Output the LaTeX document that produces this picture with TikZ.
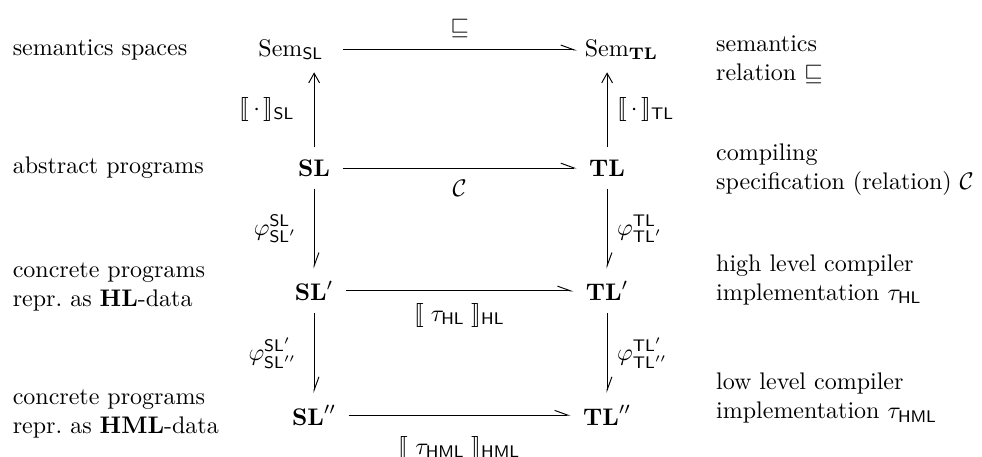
\documentclass[tikz,border=0pt]{standalone}
\usepackage{amsmath,amssymb,stmaryrd}
\usetikzlibrary{arrows.meta}

\begin{document}
\begin{tikzpicture}[
    obj/.style={inner sep=1pt},
    harp/.style={-{Straight Barb[harpoon,length=5.5pt,width=4pt]}, shorten <=4pt, shorten >=4pt},
    upar/.style={-{Straight Barb[length=4pt,width=4.5pt]}, shorten <=4pt, shorten >=4pt},
    txt/.style={anchor=west, align=left, inner sep=0pt},
    lbl/.style={inner sep=0pt}
  ]
  \useasboundingbox (0,0) rectangle (14.38,-6.68);

  % the square of languages
  \node[obj] (semsl) at (4.26,-0.73) {$\mathrm{Sem}_{\mathsf{SL}}$};
  \node[obj] (semtl) at (9.10,-0.73) {$\mathrm{Sem}_{\mathbf{TL}}$};
  \node[obj] (sl) at (4.60,-2.46) {$\mathbf{SL}$};
  \node[obj] (tl) at (8.89,-2.46) {$\mathbf{TL}$};
  \node[obj] (slp) at (4.60,-4.26) {$\mathbf{SL}'$};
  \node[obj] (tlp) at (8.89,-4.26) {$\mathbf{TL}'$};
  \node[obj] (slpp) at (4.60,-6.08) {$\mathbf{SL}''$};
  \node[obj] (tlpp) at (8.89,-6.08) {$\mathbf{TL}''$};

  % horizontal arrows
  \draw[harp] (sl.east |- semsl) -- (tl.west |- semtl) node[midway, above=5pt, lbl] {$\sqsubseteq$};
  \draw[harp] (sl) -- (tl) node[midway, below=5pt, lbl] {$\mathcal{C}$};
  \draw[harp] (slp) -- (tlp) node[midway, below=5pt, lbl] {$\llbracket\;\tau_{\mathsf{HL}}\;\rrbracket_{\mathsf{HL}}$};
  \draw[harp] (slpp) -- (tlpp) node[midway, below=8.6pt, lbl] {$\llbracket\;\tau_{\mathsf{HML}}\;\rrbracket_{\mathsf{HML}}$};

  % vertical arrows
  \draw[upar] (sl) -- (sl |- semsl.south) node[midway, left=8pt, lbl] {$\llbracket\,\cdot\,\rrbracket_{\mathsf{SL}}$};
  \draw[upar] (tl) -- (tl |- semtl.south) node[midway, right=4pt, lbl] {$\llbracket\,\cdot\,\rrbracket_{\mathsf{TL}}$};
  \draw[harp] (sl) -- (slp) node[midway, left=7pt, lbl] {$\varphi^{\mathsf{SL}}_{\mathsf{SL}'}$};
  \draw[harp] (tl) -- (tlp) node[midway, right=4pt, lbl] {$\varphi^{\mathsf{TL}}_{\mathsf{TL}'}$};
  \draw[harp] (slp) -- (slpp) node[midway, left=7pt, lbl] {$\varphi^{\mathsf{SL}'}_{\mathsf{SL}''}$};
  \draw[harp] (tlp) -- (tlpp) node[midway, right=4pt, lbl] {$\varphi^{\mathsf{TL}'}_{\mathsf{TL}''}$};

  % explanations left
  \node[txt] (lsem) at (0.18,-0.73) {semantics spaces};
  \node[txt] (labs) at (0.18,-2.46) {abstract programs};
  \node[txt] (lhl) at (0.18,-4.20) {concrete programs\\repr.\ as \textbf{HL}-data};
  \node[txt] (lhml) at (0.18,-6.06) {concrete programs\\repr.\ as \textbf{HML}-data};

  % explanations right
  \node[txt] (rsem) at (10.48,-0.88) {semantics\\relation $\sqsubseteq$};
  \node[txt] (rspec) at (10.48,-2.49) {compiling\\specification (relation) $\mathcal{C}$};
  \node[txt] (rhl) at (10.48,-4.10) {high level compiler\\implementation $\tau_{\mathsf{HL}}$};
  \node[txt] (rhml) at (10.48,-5.83) {low level compiler\\implementation $\tau_{\mathsf{HML}}$};
\end{tikzpicture}
\end{document}
